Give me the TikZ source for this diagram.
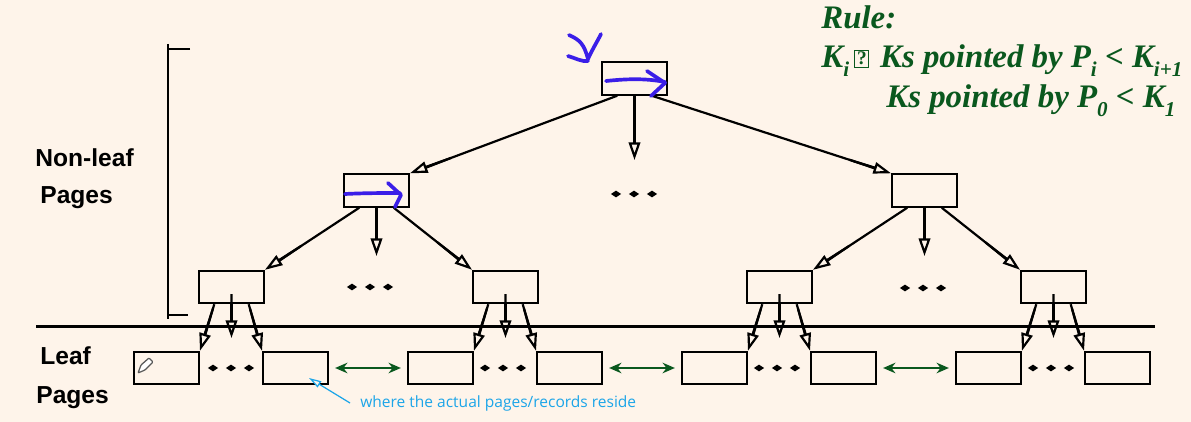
\documentclass[tikz,border=0pt]{standalone}
\usepackage{fontspec}
\setmainfont{Liberation Serif}
\newfontfamily\labelfont{Liberation Sans}
\newfontfamily\notefont{Open Sans}
\usetikzlibrary{arrows.meta, positioning, calc, shapes.geometric}
\definecolor{PageBg}{RGB}{254, 244, 234}
\definecolor{RuleGreen}{RGB}{10, 88, 30}
\definecolor{InkBlue}{RGB}{58, 30, 232}
\definecolor{NoteBlue}{RGB}{28, 165, 232}
\newcommand{\subtxt}[1]{\raisebox{-0.55ex}{\fontsize{12}{12}\selectfont #1}}
\tikzset{
    pagebox/.style={draw=black, fill=PageBg, line width=1.1pt, minimum width=1.3cm, minimum height=0.65cm, inner sep=0pt},
    treearrow/.style={line width=1.25pt, -{Triangle[length=10pt, width=0.5pt, sep=-10pt]Triangle[open, fill=PageBg, length=10pt, width=6.5pt]}},
    sidelabel/.style={font=\labelfont\bfseries\fontsize{14}{16}\selectfont, inner sep=0pt},
    ruletext/.style={text=RuleGreen, font=\bfseries\itshape\fontsize{18.7}{20}\selectfont, inner sep=0pt, anchor=base west},
    siblinglink/.style={{Stealth[length=7pt, width=6pt]}-{Stealth[length=7pt, width=6pt]}, line width=1.1pt, RuleGreen, shorten >=3.5pt, shorten <=3.5pt},
    inkstroke/.style={InkBlue, line width=2.1pt, line cap=round, line join=round},
    dotmark/.style={diamond, fill=black, inner sep=0pt, minimum width=6pt, minimum height=4pt}
}

\begin{document}
\begin{tikzpicture}[x=0.02cm, y=-0.02cm]

    % --- BACKGROUND ---
    \fill[PageBg] (0,0) rectangle (1191,422);
    \useasboundingbox (0,0) rectangle (1191,422);

    % --- NON-LEAF PAGES ---
    \node[pagebox] (root) at (634.5, 78.5) {};
    \node[pagebox] (midL) at (376.5, 190.5) {};
    \node[pagebox] (midR) at (924.5, 190.5) {};
    \node[pagebox] (low1) at (231.5, 287) {};
    \node[pagebox] (low2) at (505.5, 287) {};
    \node[pagebox] (low3) at (779.5, 287) {};
    \node[pagebox] (low4) at (1053.5, 287) {};

    % --- LEAF PAGES ---
    \node[pagebox] (leaf1) at (166.5, 368) {};
    \node[pagebox] (leaf2) at (295.5, 368) {};
    \node[pagebox] (leaf3) at (440.5, 368) {};
    \node[pagebox] (leaf4) at (569.5, 368) {};
    \node[pagebox] (leaf5) at (714.5, 368) {};
    \node[pagebox] (leaf6) at (843.5, 368) {};
    \node[pagebox] (leaf7) at (988.5, 368) {};
    \node[pagebox] (leaf8) at (1117.5, 368) {};

    % Free ends of the middle arrows
    \coordinate (rootEnd) at (634.5, 160);
    \coordinate (midLEnd) at (376.5, 256);
    \coordinate (midREnd) at (924.5, 256);
    \coordinate (low1End) at (231.5, 338);
    \coordinate (low2End) at (505.5, 338);
    \coordinate (low3End) at (779.5, 338);
    \coordinate (low4End) at (1053.5, 338);

    % Arrows from the root
    \draw[treearrow] (root.225) -- (midL.north east);
    \draw[treearrow] (root.south) -- (rootEnd);
    \draw[treearrow] (root.315) -- (midR.north west);

    % Arrows from the second level
    \draw[treearrow] (midL.225) -- (low1.north east);
    \draw[treearrow] (midL.south) -- (midLEnd);
    \draw[treearrow] (midL.315) -- (low2.north west);
    \draw[treearrow] (midR.225) -- (low3.north east);
    \draw[treearrow] (midR.south) -- (midREnd);
    \draw[treearrow] (midR.315) -- (low4.north west);

    % Arrows down to the leaves
    \draw[treearrow] (low1.225) -- (leaf1.north east);
    \draw[treearrow] (low1.south) -- (low1End);
    \draw[treearrow] (low1.315) -- (leaf2.north west);
    \draw[treearrow] (low2.225) -- (leaf3.north east);
    \draw[treearrow] (low2.south) -- (low2End);
    \draw[treearrow] (low2.315) -- (leaf4.north west);
    \draw[treearrow] (low3.225) -- (leaf5.north east);
    \draw[treearrow] (low3.south) -- (low3End);
    \draw[treearrow] (low3.315) -- (leaf6.north west);
    \draw[treearrow] (low4.225) -- (leaf7.north east);
    \draw[treearrow] (low4.south) -- (low4End);
    \draw[treearrow] (low4.315) -- (leaf8.north west);

    % Sibling links
    \draw[siblinglink] (leaf2.east) -- (leaf3.west);
    \draw[siblinglink] (leaf4.east) -- (leaf5.west);
    \draw[siblinglink] (leaf6.east) -- (leaf7.west);

    % Dots
    \foreach \cx/\cy in {634/194, 370/287, 923/288, 231/368, 503/368, 777/368, 1051/368}
        \foreach \off in {-18, 0, 18}
            \node[dotmark] (dot\cx-\off) at (\cx+\off, \cy) {};

    % --- DIVIDER AND BRACKET ---
    \draw[line width=1.2pt] (36, 326.5) -- (1155, 326.5);
    \draw[line width=1.1pt] (190, 49) -- (168, 49);
    \draw[line width=1.1pt] (168, 44) -- (168, 319);
    \draw[line width=1.1pt] (168, 315) -- (188, 315);

    % --- SIDE LABELS ---
    \node[sidelabel, anchor=base west] (nonleaf) at (35, 167) {Non-leaf};
    \node[sidelabel, anchor=base west] (nonpages) at (40, 204) {Pages};
    \node[sidelabel, anchor=base west] (leaflbl) at (40, 365) {Leaf};
    \node[sidelabel, anchor=base west] (leafpages) at (36, 403) {Pages};

    % --- RULE ---
    \node[ruletext] (rule1) at (821, 29) {Rule:};
    \node[ruletext] (rule2) at (821, 68) {K\subtxt{i}\hspace{3pt}{\setlength{\fboxsep}{0.9pt}\setlength{\fboxrule}{0.6pt}\raisebox{0.2ex}{\fbox{\fontsize{11}{11}\selectfont\upshape ?}}}\hspace{1.5pt} Ks pointed by P\subtxt{i} < K\subtxt{i+1}};
    \node[ruletext] (rule3) at (886, 108) {Ks pointed by P\subtxt{0} < K\subtxt{1}};

    % --- NOTE ---
    \coordinate (noteStart) at (350, 403);
    \coordinate (noteTip) at (309, 378);
    \node[text=NoteBlue, font=\notefont\fontsize{8.84}{10}\selectfont, inner sep=0pt, anchor=west] (note) at (360, 403) {where the actual pages/records reside};
    \draw[NoteBlue, line width=0.7pt, -{Triangle[open, fill=PageBg, length=7pt, width=4pt]}] (noteStart) -- (noteTip);

    % --- HAND MARKS ---
    \draw[inkstroke] (569, 35) .. controls (580, 40) and (584, 44) .. (588, 59) .. controls (592, 50) and (597, 42) .. (601, 34);
    \draw[inkstroke] (568, 56) .. controls (575, 58) and (582, 62) .. (588, 61);
    \draw[inkstroke] (606, 81) .. controls (625, 79) and (645, 78) .. (665, 82);
    \draw[inkstroke] (647, 71) -- (665, 83) -- (651, 96);
    \draw[inkstroke] (345, 194) .. controls (365, 193) and (385, 193) .. (400, 193);
    \draw[inkstroke] (388, 183) -- (401, 195) -- (395, 207);

    % --- PENCIL ---
    \draw[black!65, fill=white, line width=0.7pt, rounded corners=0.5pt] (138, 373) -- (141, 365) -- (149, 358) -- (153, 362) -- (145, 370) -- cycle;

\end{tikzpicture}
\end{document}
